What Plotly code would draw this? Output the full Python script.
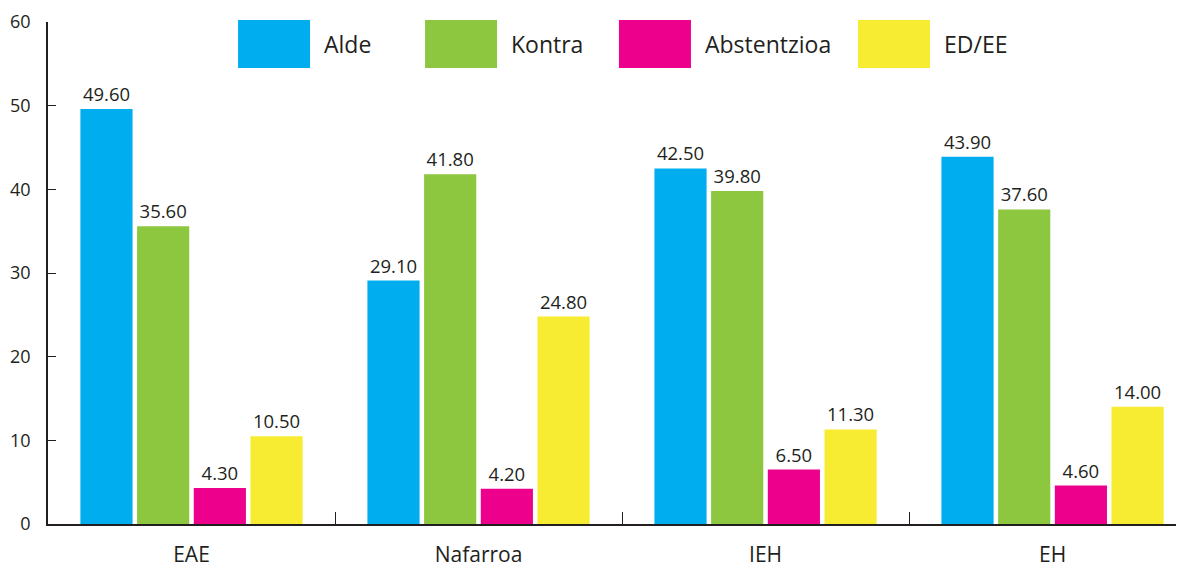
import plotly.graph_objects as go

categories = ['EAE', 'Nafarroa', 'IEH', 'EH']
alde = [49.6, 29.1, 42.5, 43.9]
kontra = [35.6, 41.8, 39.8, 37.6]
abstentzioa = [4.3, 4.2, 6.5, 4.6]
ed_ee = [10.5, 24.8, 11.3, 14.0]

series = [
    ('Alde', alde, '#00AEEF'),
    ('Kontra', kontra, '#8DC63F'),
    ('Abstentzioa', abstentzioa, '#EC008C'),
    ('ED/EE', ed_ee, '#F7EC31'),
]

FONT = 'Open Sans'
INK = '#231F20'
PLOT_W, PLOT_H = 1136, 502

fig = go.Figure()
for name, vals, color in series:
    fig.add_bar(
        x=categories, y=vals, name=name,
        marker_color=color, marker_line_width=0,
        text=[f'{v:.2f}' for v in vals], textposition='outside',
        textfont=dict(size=18.5, color=INK, family=FONT),
        cliponaxis=False,
    )

# big square legend drawn by hand, like the original
legend_x = [0.1673, 0.3319, 0.5026, 0.7130]
for (name, vals, color), x0 in zip(series, legend_x):
    fig.add_shape(type='rect', xref='paper', yref='paper',
                  x0=x0, x1=x0 + 72 / PLOT_W, y0=1.0 - 46 / PLOT_H, y1=1.0 + 2 / PLOT_H,
                  fillcolor=color, line_width=0)
    fig.add_annotation(text=name, xref='paper', yref='paper',
                       x=x0 + 84 / PLOT_W, y=1.0 - 22 / PLOT_H, xanchor='left', yanchor='middle',
                       showarrow=False, font=dict(size=23, color=INK, family=FONT))

fig.update_layout(
    width=1176, height=561,
    margin=dict(l=40, r=0, t=14, b=45),
    plot_bgcolor='white', paper_bgcolor='white',
    barmode='group', bargap=0.21, bargroupgap=0.08,
    showlegend=False,
    font=dict(family=FONT, color=INK),
)
fig.update_xaxes(
    range=[-0.5, 3.458], showline=True, linecolor=INK, linewidth=1.5,
    ticks='inside', tickson='boundaries', ticklen=12, tickcolor=INK, tickwidth=1.2,
    tickfont=dict(size=21, color=INK, family=FONT), ticklabelstandoff=11,
    showgrid=False, zeroline=False, automargin=False,
)
fig.update_yaxes(
    range=[0, 60], dtick=10, showline=True, linecolor=INK, linewidth=1.5,
    ticks='inside', ticklen=8, tickcolor=INK, tickwidth=1.2,
    tickfont=dict(size=18, color=INK, family=FONT), ticklabelstandoff=12,
    showgrid=False, zeroline=False, automargin=False,
)

fig.write_html('out.html')
